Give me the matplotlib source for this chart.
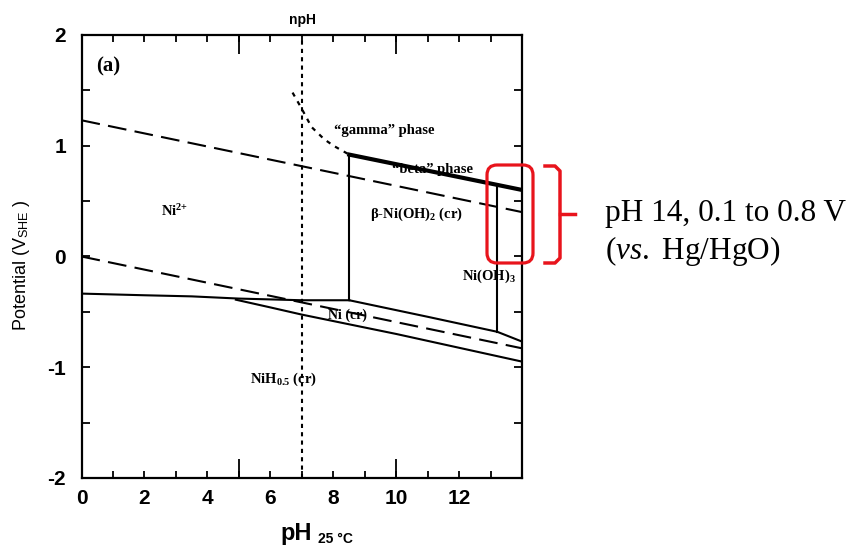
import matplotlib.pyplot as plt
from matplotlib.patches import FancyBboxPatch

plt.rcParams['mathtext.fontset'] = 'custom'
plt.rcParams['mathtext.rm'] = 'Liberation Serif'
plt.rcParams['mathtext.it'] = 'Liberation Serif:italic'
plt.rcParams['mathtext.bf'] = 'Liberation Serif:bold'
plt.rcParams['mathtext.sf'] = 'Liberation Sans'

# ---- boundary lines (pH, potential V vs SHE) ----
water_ph = [0, 14]
o2_e = [1.23, 0.40]
h2_e = [0.0, -0.83]

gamma_ph = [6.7, 7.0, 7.3, 7.7, 8.0, 8.5]
gamma_e = [1.48, 1.33, 1.17, 1.06, 1.00, 0.92]

beta_top_ph = [8.5, 14]
beta_top_e = [0.92, 0.60]

ni2_ph = [0, 2, 3.5, 5, 7, 8.5]
ni2_e = [-0.335, -0.35, -0.36, -0.38, -0.395, -0.395]

nioh2_ni_ph = [8.5, 11, 13.2, 14]
nioh2_ni_e = [-0.395, -0.545, -0.68, -0.77]

nih_ph = [4.9, 6, 7, 10, 14]
nih_e = [-0.39, -0.46, -0.525, -0.70, -0.95]

beta_left_ph = [8.5, 8.5]
beta_left_e = [-0.395, 0.92]

nioh3_ph = [13.2, 13.2]
nioh3_e = [-0.68, 0.64]

npH = 7

x_major = [0, 2, 4, 6, 8, 10, 12]
x_minor = [1, 3, 5, 7, 9, 11, 13]
x_long = [5, 10]
y_major = [-2, -1, 0, 1, 2]
y_minor = [-1.5, -0.5, 0.5, 1.5]

# ---- figure ----
fig = plt.figure(figsize=(8.53, 5.47), dpi=100)
ax = fig.add_axes([81.5 / 853, 1 - 478 / 547, 441 / 853, 443 / 547])

dash = (0, (9, 4))
ax.plot(water_ph, o2_e, color='k', lw=1.5, ls=dash)
ax.plot(water_ph, h2_e, color='k', lw=1.5, ls=dash)
ax.axvline(npH, color='k', lw=1.5, ls=(0, (2, 2)))
ax.plot(gamma_ph, gamma_e, color='k', lw=1.6, ls=(0, (2, 2.5)))

ax.plot(beta_top_ph, beta_top_e, color='k', lw=3.0)
ax.plot(ni2_ph, ni2_e, color='k', lw=1.5)
ax.plot(nioh2_ni_ph, nioh2_ni_e, color='k', lw=1.5)
ax.plot(nih_ph, nih_e, color='k', lw=1.5)
ax.plot(beta_left_ph, beta_left_e, color='k', lw=1.5)
ax.plot(nioh3_ph, nioh3_e, color='k', lw=1.5)

ax.set_xlim(0, 14)
ax.set_ylim(-2, 2)

ax.set_xticks(x_major)
ax.set_xticklabels([str(v) for v in x_major], fontsize=15,
                   fontweight='bold', family='Liberation Sans')
ax.set_xticks(x_minor, minor=True)
ax.set_yticks(y_major)
ax.set_yticklabels([str(v) for v in y_major], fontsize=15,
                   fontweight='bold', family='Liberation Sans')
ax.set_yticks(y_minor, minor=True)
ax.tick_params(axis='x', which='both', direction='in', length=5, width=1.3,
               top=True, pad=8)
ax.tick_params(axis='y', which='both', direction='in', length=6, width=1.3,
               right=True, pad=11)
for s in ax.spines.values():
    s.set_linewidth(1.6)

# longer ticks at pH 5 and 10
for loc in ['bottom', 'top']:
    sec = ax.secondary_xaxis(loc)
    sec.set_xticks(x_long)
    sec.set_xticklabels([])
    sec.tick_params(direction='in', length=14, width=1.3)
    sec.spines[loc].set_visible(False)

ax.text(npH, 1.018, 'npH', transform=ax.get_xaxis_transform(), ha='center',
        va='bottom', fontsize=10, fontweight='bold', family='Liberation Sans')

# phase labels
lab = dict(family='Liberation Serif', fontweight='bold', color='k',
           ha='center', va='center')
ax.text(0.06, 0.93, '(a)', transform=ax.transAxes, fontsize=15, **lab)
ax.text(2.95, 0.41, r'Ni$^{\mathbf{2{+}}}$', fontsize=10.5, **lab)
ax.text(9.6, 1.14, '\u201cgamma\u201d phase', fontsize=10.5, **lab)
ax.text(11.15, 0.79, '\u201cbeta\u201d phase', fontsize=10.5, **lab)
ax.text(10.65, 0.38, '\u03b2-Ni(OH)$_{\\mathbf{2}}$ (cr)', fontsize=10.5, **lab)
ax.text(12.95, -0.18, 'Ni(OH)$_{\\mathbf{3}}$', fontsize=10.5, **lab)
ax.text(8.45, -0.53, 'Ni (cr)', fontsize=10, **lab)
ax.text(6.4, -1.11, 'NiH$_{\\mathbf{0.5}}$ (cr)', fontsize=10.5, **lab)

# ---- overlay in pixel units for axis titles and the callout ----
ov = fig.add_axes([0, 0, 1, 1])
ov.set_xlim(0, 853)
ov.set_ylim(547, 0)
ov.axis('off')
ov.set_zorder(5)

ov.text(22, 265, r'Potential (V$_{\mathsf{SHE}}$ )', rotation=90, ha='center',
        va='center', fontsize=13, family='Liberation Sans')
ov.text(280, 540, 'pH', ha='left', va='baseline', fontsize=17,
        fontweight='bold', family='Liberation Sans')
ov.text(318, 543, '25 \u00b0C', ha='left', va='baseline', fontsize=10,
        fontweight='bold', family='Liberation Sans')

red = '#e8141c'
ov.add_patch(FancyBboxPatch((487, 165), 46, 98,
                            boxstyle='round,pad=0,rounding_size=10',
                            fill=False, ec=red, lw=2.3))
ov.plot([545, 555, 560, 560, 555, 545], [166, 166, 171, 258, 263, 263],
        color=red, lw=2.5, solid_joinstyle='round')
ov.plot([560, 575], [214, 214], color=red, lw=2.5)

ov.text(605, 213, 'pH 14, 0.1 to 0.8 V', ha='left', va='center',
        fontsize=22.5, family='Liberation Serif')
ov.text(605, 251, r'($\mathit{vs.}$ Hg/HgO)', ha='left', va='center',
        fontsize=22.5, family='Liberation Serif')

fig.savefig('out.png', dpi=100)
